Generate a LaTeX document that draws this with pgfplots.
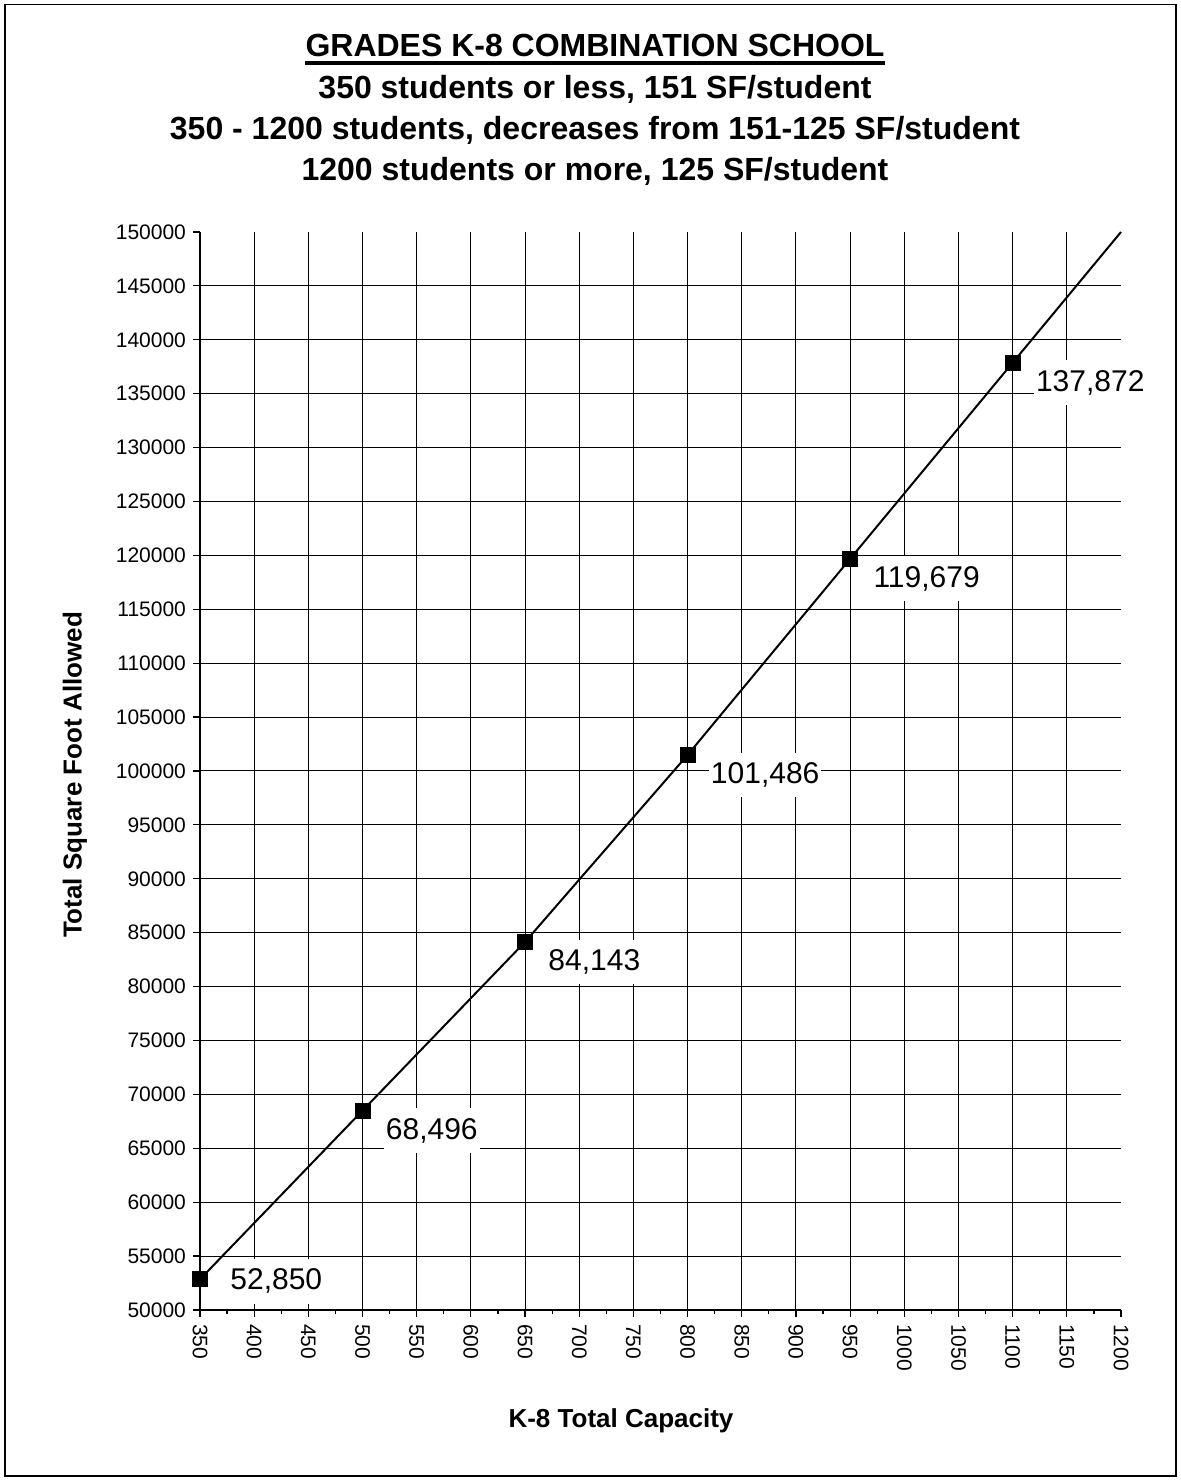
\documentclass[border=0pt]{standalone}
\usepackage{fontspec}
\setmainfont{Liberation Sans}
\usepackage{pgfplots}
\pgfplotsset{compat=1.18}
\begin{document}
\begin{tikzpicture}
\useasboundingbox (0,0) rectangle (590pt,740.5pt);
\draw[line width=0.6pt] (2.5pt,2.5pt) rectangle (588pt,738.3pt);
% grid only
\begin{axis}[
  at={(100pt,85.5pt)}, anchor=south west, scale only axis,
  width=460.5pt, height=539pt,
  xmin=350, xmax=1200, ymin=50000, ymax=150000,
  xtick={400,450,...,1150}, ytick={55000,60000,...,145000},
  xticklabels={}, yticklabels={},
  scaled x ticks=false, scaled y ticks=false,
  grid=major, grid style={black, line width=0.5pt},
  major tick length=0pt, tick style={draw=none},
  axis line style={draw=none},
]
\end{axis}
\begin{axis}[
  at={(100pt,85.5pt)}, anchor=south west, scale only axis,
  width=460.5pt, height=539pt,
  xmin=350, xmax=1200, ymin=50000, ymax=150000,
  axis x line*=bottom, axis y line*=left,
  tick pos=left, tick align=outside,
  xtick={350,400,...,1200}, ytick={50000,55000,...,150000},
  minor x tick num=1,
  major tick length=3.5pt, minor tick length=2pt,
  axis line style={black, line width=0.6pt},
  tick style={black, line width=0.6pt},
  xticklabel style={rotate=-90, anchor=west, font=\fontsize{10.5}{12}\selectfont},
  yticklabel style={font=\fontsize{10.5}{12}\selectfont},
  scaled y ticks=false, scaled x ticks=false,
  /pgf/number format/.cd, fixed, 1000 sep={}, assume math mode=true,
  /pgfplots/.cd, clip=false,
]
\addplot[black, line width=1pt] coordinates {(1100,137872)(1200,150000)};
\addplot[black, line width=1pt, mark=square*, mark size=3.5pt, mark options={solid, fill=black}] coordinates {
(350,52850)(500,68496)(650,84143)(800,101486)(950,119679)(1100,137872)};
\addplot[draw=none, mark=none, point meta=explicit symbolic,
  nodes near coords={\pgfplotspointmeta},
  nodes near coords style={anchor=west, xshift=14pt, yshift=-1pt, font=\fontsize{15}{17}\selectfont, fill=white, inner xsep=1pt, inner ysep=5pt, text=black}]
  table[meta=label] {
x y label
350 52850 52,850
};
\addplot[draw=none, mark=none, point meta=explicit symbolic,
  nodes near coords={\pgfplotspointmeta},
  nodes near coords style={anchor=west, xshift=10.5pt, yshift=-10pt, font=\fontsize{15}{17}\selectfont, fill=white, inner xsep=1pt, inner ysep=5pt, text=black}]
  table[meta=label] {
x y label
500 68496 68,496
650 84143 84,143
800 101486 101,486
950 119679 119,679
1100 137872 137,872
};
\end{axis}
\begin{scope}[every node/.style={inner sep=0pt, anchor=base, font=\bfseries\fontsize{16}{19}\selectfont}]
\node (t1) at (297.5pt,712pt) {GRADES K-8 COMBINATION SCHOOL};
\draw[line width=1.6pt] ([yshift=-3pt]t1.base west) -- ([yshift=-3pt]t1.base east);
\node at (297.5pt,691pt) {350 students or less, 151 SF/student};
\node at (297.5pt,670.5pt) {350 - 1200 students, decreases from 151-125 SF/student};
\node at (297.5pt,650pt) {1200 students or more, 125 SF/student};
\end{scope}
\node[rotate=90, font=\bfseries\fontsize{13}{15}\selectfont] at (37.5pt,353pt) {Total Square Foot Allowed};
\node[font=\bfseries\fontsize{13}{15}\selectfont] at (310.5pt,30pt) {K-8 Total Capacity};
\end{tikzpicture}
\end{document}
